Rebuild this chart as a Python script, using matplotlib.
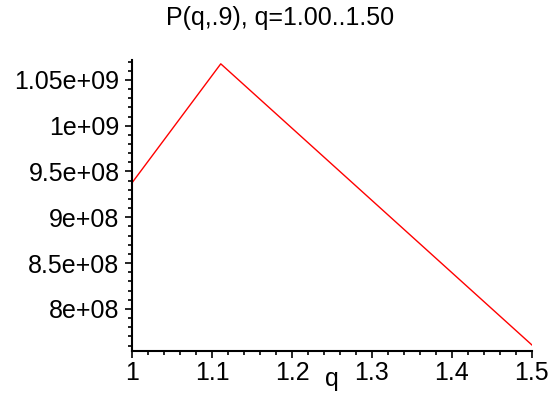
import matplotlib
matplotlib.use('Agg')
import matplotlib.pyplot as plt
from matplotlib.ticker import MultipleLocator

# P(q, .9) sampled at the corners of the curve
q = [1.00, 1.111, 1.50]
P = [9.376e8, 1.0675e9, 7.607e8]

yticks = [8e8, 8.5e8, 9e8, 9.5e8, 1e9, 1.05e9]
ylabels = ['8e+08', '8.5e+08', '9e+08', '9.5e+08', '1e+09', '1.05e+09']
xticks = [1, 1.1, 1.2, 1.3, 1.4, 1.5]
xlabels = ['1', '1.1', '1.2', '1.3', '1.4', '1.5']

plt.rcParams['font.family'] = ['Liberation Sans', 'DejaVu Sans']

fig = plt.figure(figsize=(5.5, 3.94), dpi=100)
ax = fig.add_axes([0.24, 0.109, 0.727, 0.739])

ax.plot(q, P, color='red', linewidth=1)

ax.set_xlim(1.0, 1.5)
ax.set_ylim(7.54e8, 1.0718e9)

ax.set_xticks(xticks)
ax.set_xticklabels(xlabels, fontsize=18)
ax.set_yticks(yticks)
ax.set_yticklabels(ylabels, fontsize=18)
ax.xaxis.set_minor_locator(MultipleLocator(0.02))
ax.yaxis.set_minor_locator(MultipleLocator(1e7))

ax.tick_params(which='major', direction='out', length=5, width=1.2)
ax.tick_params(axis='y', which='major', pad=4)
ax.tick_params(axis='x', which='major', pad=2)
ax.tick_params(which='minor', direction='out', length=3, width=1.2)

for s in ['top', 'right']:
    ax.spines[s].set_visible(False)
for s in ['left', 'bottom']:
    ax.spines[s].set_linewidth(1.5)

ax.set_xlabel('q', fontsize=18)
ax.xaxis.set_label_coords(0.5, -0.055)

fig.text(0.51, 0.955, 'P(q,.9), q=1.00..1.50', ha='center', va='center', fontsize=18)

fig.savefig('out.png', dpi=100)
